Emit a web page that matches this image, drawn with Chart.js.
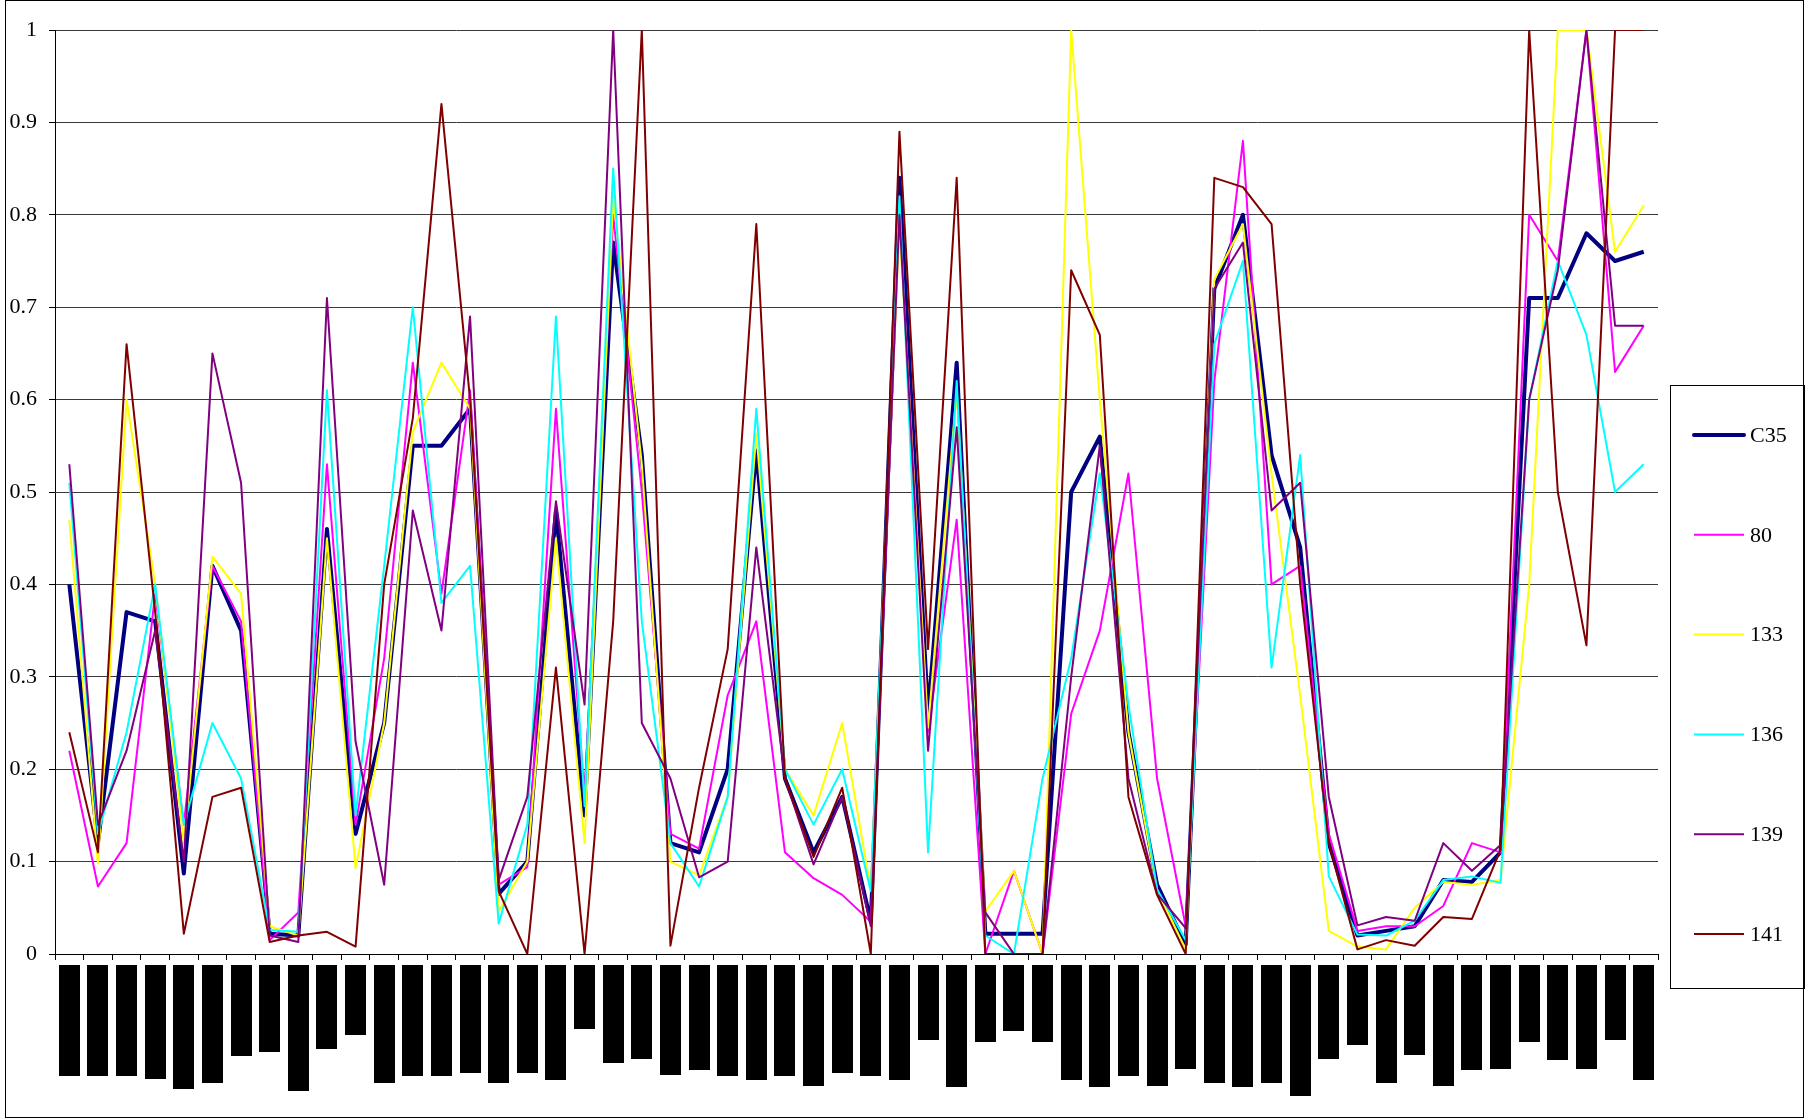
<!DOCTYPE html>
<html>
<head>
<meta charset="utf-8">
<script src="https://cdn.jsdelivr.net/npm/chart.js@4.4.0/dist/chart.umd.min.js"></script>
<style>
  html, body { margin: 0; padding: 0; background: #fff; }
  canvas { display: block; }
</style>
</head>
<body>
<canvas id="chart" width="1805" height="1119"></canvas>
<script>
// categories (the original labels are blacked out in the picture)
const categories = [1,2,3,4,5,6,7,8,9,10,11,12,13,14,15,16,17,18,19,20,21,22,23,24,25,26,27,28,
  29,30,31,32,33,34,35,36,37,38,39,40,41,42,43,44,45,46,47,48,49,50,51,52,53,54,55,56];

// length of each blacked-out label below the axis
const labelLength = [111,111,111,114,124,118,91,87,126,84,70,118,111,111,108,118,108,115,64,98,
  94,110,105,111,115,111,121,108,111,115,75,122,77,66,77,115,122,111,121,104,
  118,122,118,131,94,80,118,90,121,105,104,77,95,104,75,115];

const seriesNames = ['C35', '80', '133', '136', '139', '141'];

const c35 = [0.40,0.12,0.37,0.36,0.087,0.42,0.35,0.022,0.02,0.46,
  0.13,0.25,0.55,0.55,0.59,0.065,0.10,0.48,0.15,0.77,
  0.54,0.12,0.11,0.20,0.545,0.19,0.11,0.17,0.035,0.84,
  0.26,0.64,0.022,0.022,0.022,0.50,0.56,0.24,0.075,0.01,
  0.72,0.80,0.54,0.44,0.12,0.02,0.025,0.03,0.08,0.078,
  0.11,0.71,0.71,0.78,0.75,0.76];

const s80 = [0.22,0.073,0.12,0.39,0.14,0.42,0.36,0.015,0.045,0.53,
  0.14,0.32,0.64,0.39,0.61,0.075,0.094,0.59,0.17,0.80,
  0.50,0.13,0.114,0.28,0.36,0.11,0.082,0.064,0.035,0.80,
  0.24,0.47,0.0,0.09,0.0,0.26,0.35,0.52,0.19,0.03,
  0.62,0.88,0.40,0.42,0.13,0.025,0.03,0.03,0.052,0.12,
  0.11,0.80,0.75,1.0,0.63,0.68];

const s133 = [0.47,0.098,0.60,0.40,0.12,0.43,0.39,0.03,0.02,0.45,
  0.093,0.25,0.565,0.64,0.59,0.046,0.10,0.45,0.12,0.82,
  0.53,0.10,0.085,0.17,0.563,0.20,0.15,0.25,0.07,0.79,
  0.245,0.61,0.046,0.09,0.0,1.0,0.60,0.24,0.07,0.005,
  0.73,0.79,0.52,0.28,0.025,0.008,0.005,0.05,0.078,0.075,
  0.08,0.40,1.0,1.0,0.76,0.81];

const s136 = [0.51,0.13,0.24,0.40,0.14,0.25,0.19,0.026,0.024,0.61,
  0.15,0.42,0.70,0.38,0.42,0.033,0.14,0.69,0.16,0.85,
  0.36,0.12,0.073,0.17,0.59,0.20,0.14,0.20,0.068,0.82,
  0.11,0.62,0.02,0.0,0.19,0.32,0.52,0.27,0.07,0.015,
  0.66,0.75,0.31,0.54,0.084,0.021,0.02,0.036,0.08,0.084,
  0.077,0.60,0.75,0.67,0.50,0.53];

const s139 = [0.53,0.14,0.22,0.35,0.10,0.65,0.51,0.02,0.013,0.71,
  0.23,0.075,0.48,0.35,0.69,0.08,0.17,0.49,0.27,1.0,
  0.25,0.19,0.083,0.10,0.44,0.19,0.097,0.17,0.03,0.80,
  0.22,0.57,0.045,0.0,0.0,0.30,0.55,0.19,0.065,0.028,
  0.72,0.77,0.48,0.51,0.17,0.031,0.04,0.036,0.12,0.09,
  0.118,0.60,0.74,1.0,0.68,0.68];

const s141 = [0.24,0.11,0.66,0.37,0.022,0.17,0.18,0.013,0.02,0.024,
  0.008,0.40,0.58,0.92,0.60,0.068,0.0,0.31,0.0,0.36,
  1.0,0.009,0.18,0.33,0.79,0.19,0.105,0.18,0.0,0.89,
  0.33,0.84,0.0,0.0,0.0,0.74,0.67,0.17,0.064,0.0,
  0.84,0.83,0.79,0.40,0.12,0.005,0.015,0.009,0.04,0.038,
  0.113,1.0,0.50,0.334,1.0,1.0];

const seriesData = [c35, s80, s133, s136, s139, s141];
const seriesColors = ['#000080', '#ff00ff', '#ffff00', '#00ffff', '#800080', '#800000'];
const seriesWidths = [4, 2, 2, 2, 2, 2];

const FONT = "'Liberation Serif', 'Times New Roman', serif";

// white page and the thin frame round the whole chart
const framePlugin = {
  id: 'frame',
  beforeDraw(chart) {
    const ctx = chart.ctx;
    ctx.save();
    ctx.fillStyle = '#fff';
    ctx.fillRect(0, 0, chart.width, chart.height);
    ctx.restore();
  },
  afterDraw(chart) {
    const ctx = chart.ctx;
    ctx.save();
    ctx.strokeStyle = '#000';
    ctx.lineWidth = 1;
    ctx.strokeRect(5.5, 0.5, chart.width - 7, chart.height - 2);
    ctx.restore();
  }
};

// black boxes where the category labels were
const labelMaskPlugin = {
  id: 'labelMasks',
  afterDraw(chart) {
    const ctx = chart.ctx;
    const xs = chart.scales.x;
    const top = chart.chartArea.bottom + 11;
    ctx.save();
    ctx.fillStyle = '#000';
    labelLength.forEach((len, i) => {
      const cx = xs.getPixelForValue(i);
      ctx.fillRect(Math.round(cx - 10.5), top, 21, len);
    });
    ctx.restore();
  }
};

// boxed legend on the right
const boxLegendPlugin = {
  id: 'boxLegend',
  afterDraw(chart) {
    const ctx = chart.ctx;
    const left = 1670, top = 385, w = chart.width - left - 1, h = 603;
    ctx.save();
    ctx.strokeStyle = '#000';
    ctx.lineWidth = 1;
    ctx.strokeRect(left + 0.5, top + 0.5, w, h);
    ctx.font = '22px ' + FONT;
    ctx.textBaseline = 'middle';
    ctx.textAlign = 'left';
    chart.data.datasets.forEach((ds, i) => {
      const y = top + 50 + i * 99.8;
      ctx.strokeStyle = ds.borderColor;
      ctx.lineWidth = ds.borderWidth;
      ctx.lineCap = ds.borderWidth > 3 ? 'round' : 'butt';
      ctx.beginPath();
      ctx.moveTo(left + 24, y);
      ctx.lineTo(left + 74, y);
      ctx.stroke();
      ctx.fillStyle = '#000';
      ctx.fillText(ds.label, left + 80, y + 1);
    });
    ctx.restore();
  }
};

const datasets = seriesNames.map((name, i) => ({
  label: name,
  data: seriesData[i],
  borderColor: seriesColors[i],
  backgroundColor: seriesColors[i],
  borderWidth: seriesWidths[i],
  pointRadius: 0,
  pointHoverRadius: 0,
  tension: 0,
  fill: false,
  borderJoinStyle: 'round',
  order: seriesNames.length - i   // later series drawn on top, like the original
}));

new Chart(document.getElementById('chart'), {
  type: 'line',
  data: { labels: categories, datasets: datasets },
  plugins: [framePlugin, labelMaskPlugin, boxLegendPlugin],
  options: {
    responsive: false,
    animation: false,
    events: [],
    layout: { padding: { top: 30, right: 147, left: 0, bottom: 0 } },
    plugins: {
      legend: { display: false },
      tooltip: { enabled: false },
      title: { display: false }
    },
    scales: {
      x: {
        type: 'category',
        offset: true,
        grid: {
          display: true,
          offset: true,
          drawOnChartArea: false,
          drawTicks: true,
          tickLength: 6,
          tickColor: '#000',
          color: '#000'
        },
        border: { display: true, color: '#000', width: 1 },
        ticks: { display: false },
        afterFit: scale => { scale.height = 165; }
      },
      y: {
        min: 0,
        max: 1,
        grid: {
          color: '#3a3a3a',
          lineWidth: 1,
          drawTicks: true,
          tickLength: 6,
          tickColor: '#000'
        },
        border: { display: true, color: '#000', width: 1 },
        ticks: {
          stepSize: 0.1,
          padding: 12,
          color: '#000',
          font: { family: FONT, size: 22 },
          callback: v => String(+Number(v).toFixed(1))
        },
        afterFit: scale => { scale.width = 55; }
      }
    }
  }
});
</script>
</body>
</html>
